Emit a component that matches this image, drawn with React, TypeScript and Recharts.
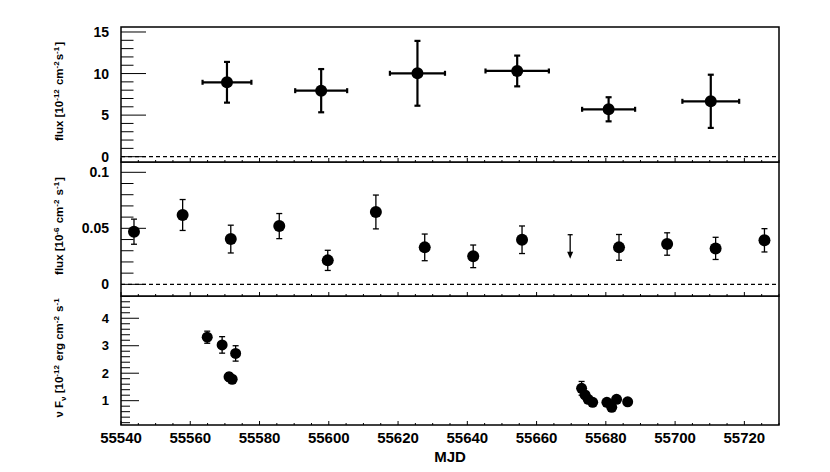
import React from 'react';
import { ScatterChart, Scatter, XAxis, YAxis, ErrorBar, ReferenceLine, ReferenceArea } from 'recharts';

const FONT = '"Liberation Sans", Arial, Helvetica, sans-serif';

// ---------- axes ----------
const X_DOMAIN: [number, number] = [55540, 55730];
const X_TICKS = [
  55540, 55545, 55550, 55555, 55560, 55565, 55570, 55575, 55580, 55585,
  55590, 55595, 55600, 55605, 55610, 55615, 55620, 55625, 55630, 55635,
  55640, 55645, 55650, 55655, 55660, 55665, 55670, 55675, 55680, 55685,
  55690, 55695, 55700, 55705, 55710, 55715, 55720, 55725, 55730,
];
const X_LABELS = [55540, 55560, 55580, 55600, 55620, 55640, 55660, 55680, 55700, 55720];

const TOP_DOMAIN: [number, number] = [-0.64, 15.6];
const TOP_Y_TICKS = [0, 1, 2, 3, 4, 5, 6, 7, 8, 9, 10, 11, 12, 13, 14, 15];
const TOP_Y_LABELS = [0, 5, 10, 15];

const MID_DOMAIN: [number, number] = [-0.0104, 0.1092];
const MID_Y_TICKS = [0, 0.01, 0.02, 0.03, 0.04, 0.05, 0.06, 0.07, 0.08, 0.09, 0.1];
const MID_Y_LABELS = [0, 0.05, 0.1];

const BOT_DOMAIN: [number, number] = [0.115, 4.81];
const BOT_Y_TICKS = [0.2, 0.4, 0.6, 0.8, 1, 1.2, 1.4, 1.6, 1.8, 2, 2.2, 2.4, 2.6, 2.8, 3, 3.2, 3.4, 3.6, 3.8, 4, 4.2, 4.4, 4.6, 4.8];
const BOT_Y_LABELS = [1, 2, 3, 4];

// ---------- top panel data ----------
const topMjd = [55570.6, 55597.8, 55625.6, 55654.4, 55680.8, 55710.3];
const topMjdErr = [7.05, 7.5, 7.95, 9.15, 7.65, 8.2];
const topFlux = [8.95, 7.94, 10.03, 10.31, 5.7, 6.66];
const topFluxErr = [2.45, 2.6, 3.9, 1.85, 1.45, 3.2];

// ---------- middle panel data ----------
const midMjd = [55543.75, 55557.8, 55571.7, 55585.7, 55599.7, 55613.6, 55627.7, 55641.7, 55655.8, 55683.8, 55697.7, 55711.7, 55725.8];
const midFlux = [0.047, 0.0619, 0.0404, 0.052, 0.0214, 0.0646, 0.033, 0.025, 0.0398, 0.033, 0.036, 0.0321, 0.0393];
const midFluxErr = [0.0112, 0.0138, 0.0124, 0.0112, 0.009, 0.0151, 0.0119, 0.0101, 0.0123, 0.0115, 0.01, 0.0099, 0.0104];
const ulMjd = [55669.7];
const ulFlux = [0.0443];

// ---------- bottom panel data ----------
const botMjd = [55564.9, 55569.2, 55571.2, 55572.1, 55573.1, 55673.0, 55674.0, 55674.9, 55676.2, 55680.3, 55681.7, 55683.1, 55686.3];
const botFlux = [3.31, 3.03, 1.87, 1.78, 2.72, 1.45, 1.21, 1.05, 0.94, 0.94, 0.76, 1.05, 0.96];
const botFluxErr = [0.22, 0.3, 0.15, 0.1, 0.28, 0.25, 0.1, 0.1, 0.08, 0.08, 0.08, 0.1, 0.08];

const topData = topMjd.map((x, i) => ({ x, y: topFlux[i], xe: topMjdErr[i], ye: topFluxErr[i] }));
const midData = midMjd.map((x, i) => ({ x, y: midFlux[i], ye: midFluxErr[i] }));
const ulData = ulMjd.map((x, i) => ({ x, y: ulFlux[i] }));
const botData = botMjd.map((x, i) => ({ x, y: botFlux[i], ye: botFluxErr[i] }));

// ---------- custom pieces ----------
const isIn = (arr: number[], v: number) => arr.some((a) => Math.abs(a - v) < 1e-9);

const XTick = (props: any) => {
  const { x, y, payload, showLabel } = props;
  const v = payload.value;
  const major = isIn(X_LABELS, v);
  return (
    <g>
      <line x1={x} x2={x} y1={y} y2={y - (major ? 4 : 2)} stroke="#000" strokeWidth={1} />
      {showLabel && major ? (
        <text x={x} y={y + 18} textAnchor="middle" fontSize={15} fontWeight="bold" fontFamily={FONT} fill="#000">
          {v}
        </text>
      ) : null}
    </g>
  );
};

const YTick = (props: any) => {
  const { x, y, payload, labels, long, short, fontSize } = props;
  const v = payload.value;
  const major = isIn(labels, v);
  return (
    <g>
      <line x1={x} x2={x + (major ? long : short)} y1={y} y2={y} stroke="#000" strokeWidth={1} />
      {major ? (
        <text x={x - 12} y={y} dy="0.36em" textAnchor="end" fontSize={fontSize} fontWeight="bold" fontFamily={FONT} fill="#000">
          {String(v)}
        </text>
      ) : null}
    </g>
  );
};

const Sup = ({ t }: { t: string }) => (
  <>
    <tspan dy={-4.5} fontSize={8}>{t}</tspan>
    <tspan dy={4.5}>{'\u200A'}</tspan>
  </>
);

const YTitle = (props: any) => {
  const { viewBox, kind } = props;
  const vb = viewBox || { x: 120, y: 0, width: 1, height: 100 };
  const cx = 63;
  const cy = vb.y + vb.height / 2 - 3;
  let content: React.ReactNode = null;
  if (kind === 'top') {
    content = (
      <>
        flux [10<Sup t="-12" /> cm<Sup t="-2" />s<Sup t="-1" />]
      </>
    );
  } else if (kind === 'mid') {
    content = (
      <>
        flux [10<Sup t="-6" /> cm<Sup t="-2" /> s<Sup t="-1" />]
      </>
    );
  } else {
    content = (
      <>
        {'\u03BD F'}
        <tspan dy={3} fontSize={8}>{'\u03BD'}</tspan>
        <tspan dy={-3}>{' [10'}</tspan>
        <Sup t="-12" />
        {' erg cm'}
        <Sup t="-2" />
        {' s'}
        <Sup t="-1" />
      </>
    );
  }
  return (
    <text
      transform={`translate(${cx},${cy}) rotate(-90)`}
      textAnchor="middle"
      fontSize={11.5}
      fontWeight="bold"
      fontFamily={FONT}
      fill="#000"
    >
      {content}
    </text>
  );
};

const XTitle = (props: any) => {
  const { viewBox } = props;
  const vb = viewBox || { x: 121, y: 0, width: 658, height: 0 };
  return (
    <text x={vb.x + vb.width / 2} y={vb.y + 37} textAnchor="middle" fontSize={15} fontWeight="bold" fontFamily={FONT} fill="#000">
      MJD
    </text>
  );
};

const makeDot = (r: number) => (p: any) => <circle cx={p.cx} cy={p.cy} r={r} fill="#000" />;

const UpperLimit = (p: any) => {
  const { cx, cy } = p;
  return (
    <g>
      <line x1={cx - 2.5} x2={cx + 2.5} y1={cy} y2={cy} stroke="#000" strokeWidth={1.3} />
      <line x1={cx} x2={cx} y1={cy} y2={cy + 18} stroke="#000" strokeWidth={1.3} />
      <path d={`M${cx - 3},${cy + 17} L${cx + 3},${cy + 17} L${cx},${cy + 24} Z`} fill="#000" />
    </g>
  );
};

const MARGIN = { top: 0, right: 51, bottom: 0, left: 120 };

function TopPanel() {
  return (
    <ScatterChart width={830} height={170} margin={{ ...MARGIN, top: 27 }}>
      <XAxis
        type="number"
        dataKey="x"
        domain={X_DOMAIN}
        ticks={X_TICKS}
        interval={0}
        allowDataOverflow
        height={8}
        axisLine={false}
        tickLine={false}
        tickSize={0}
        tickMargin={0}
        tick={<XTick showLabel={false} />}
      />
      <YAxis
        type="number"
        dataKey="y"
        domain={TOP_DOMAIN}
        ticks={TOP_Y_TICKS}
        interval={0}
        allowDataOverflow
        width={1}
        axisLine={false}
        tickLine={false}
        tickSize={0}
        tickMargin={0}
        tick={<YTick labels={TOP_Y_LABELS} long={25} short={12.5} fontSize={14} />}
        label={<YTitle kind="top" />}
      />
      <ReferenceArea x1={X_DOMAIN[0]} x2={X_DOMAIN[1]} y1={TOP_DOMAIN[0]} y2={TOP_DOMAIN[1]} fill="none" fillOpacity={0} stroke="#000" strokeWidth={1.5} ifOverflow="visible" />
      <ReferenceLine y={0} stroke="#000" strokeWidth={1.2} strokeDasharray="4 3" />
      <Scatter data={topData} isAnimationActive={false} shape={makeDot(6)}>
        <ErrorBar dataKey="xe" direction="x" width={2.5} stroke="#000" strokeWidth={2.2} />
        <ErrorBar dataKey="ye" direction="y" width={3} stroke="#000" strokeWidth={2.2} />
      </Scatter>
    </ScatterChart>
  );
}

function MidPanel() {
  return (
    <ScatterChart width={830} height={142} margin={MARGIN}>
      <XAxis
        type="number"
        dataKey="x"
        domain={X_DOMAIN}
        ticks={X_TICKS}
        interval={0}
        allowDataOverflow
        height={8}
        axisLine={false}
        tickLine={false}
        tickSize={0}
        tickMargin={0}
        tick={<XTick showLabel={false} />}
      />
      <YAxis
        type="number"
        dataKey="y"
        domain={MID_DOMAIN}
        ticks={MID_Y_TICKS}
        interval={0}
        allowDataOverflow
        width={1}
        axisLine={false}
        tickLine={false}
        tickSize={0}
        tickMargin={0}
        tick={<YTick labels={MID_Y_LABELS} long={25} short={12.5} fontSize={14} />}
        label={<YTitle kind="mid" />}
      />
      <ReferenceArea x1={X_DOMAIN[0]} x2={X_DOMAIN[1]} y1={MID_DOMAIN[0]} y2={MID_DOMAIN[1]} fill="none" fillOpacity={0} stroke="#000" strokeWidth={1.5} ifOverflow="visible" />
      <ReferenceLine y={0} stroke="#000" strokeWidth={1.2} strokeDasharray="4 3" />
      <Scatter data={midData} isAnimationActive={false} shape={makeDot(6)}>
        <ErrorBar dataKey="ye" direction="y" width={3} stroke="#000" strokeWidth={1.3} />
      </Scatter>
      <Scatter data={ulData} isAnimationActive={false} shape={UpperLimit} />
    </ScatterChart>
  );
}

function BotPanel() {
  return (
    <ScatterChart width={830} height={176} margin={MARGIN}>
      <XAxis
        type="number"
        dataKey="x"
        domain={X_DOMAIN}
        ticks={X_TICKS}
        interval={0}
        allowDataOverflow
        height={47}
        axisLine={false}
        tickLine={false}
        tickSize={0}
        tickMargin={0}
        tick={<XTick showLabel={true} />}
        label={<XTitle />}
      />
      <YAxis
        type="number"
        dataKey="y"
        domain={BOT_DOMAIN}
        ticks={BOT_Y_TICKS}
        interval={0}
        allowDataOverflow
        width={1}
        axisLine={false}
        tickLine={false}
        tickSize={0}
        tickMargin={0}
        tick={<YTick labels={BOT_Y_LABELS} long={18} short={9} fontSize={13} />}
        label={<YTitle kind="bot" />}
      />
      <ReferenceArea x1={X_DOMAIN[0]} x2={X_DOMAIN[1]} y1={BOT_DOMAIN[0]} y2={BOT_DOMAIN[1]} fill="none" fillOpacity={0} stroke="#000" strokeWidth={1.5} ifOverflow="visible" />
      <Scatter data={botData} isAnimationActive={false} shape={makeDot(5.5)}>
        <ErrorBar dataKey="ye" direction="y" width={3} stroke="#000" strokeWidth={1.3} />
      </Scatter>
    </ScatterChart>
  );
}

export default function App() {
  return (
    <div style={{ position: 'absolute', left: 0, top: 0, width: 830, height: 472, background: '#fff', overflow: 'hidden' }}>
      <div style={{ position: 'absolute', left: 0, top: 0 }}>
        <TopPanel />
      </div>
      <div style={{ position: 'absolute', left: 0, top: 162 }}>
        <MidPanel />
      </div>
      <div style={{ position: 'absolute', left: 0, top: 296 }}>
        <BotPanel />
      </div>
    </div>
  );
}
